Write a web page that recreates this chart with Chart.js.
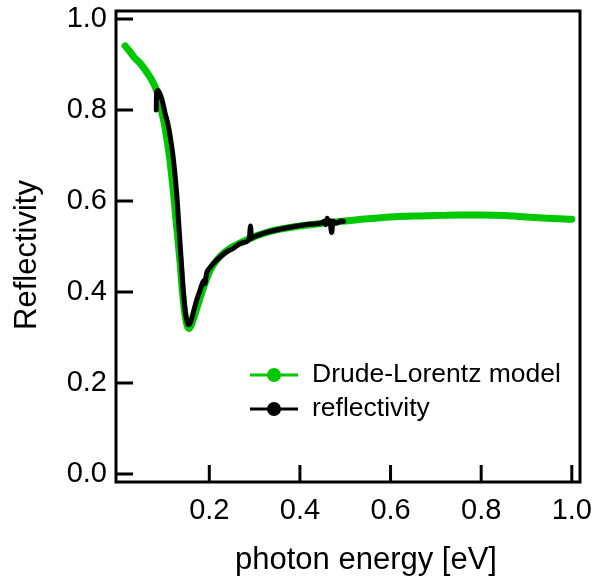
<!DOCTYPE html>
<html>
<head>
<meta charset="utf-8">
<script src="https://cdn.jsdelivr.net/npm/chart.js@4.4.1/dist/chart.umd.min.js"></script>
<style>
  body { margin: 0; background: #fff; }
  #wrap { width: 594px; height: 579px; }
</style>
</head>
<body>
<div id="wrap"><canvas id="grafico" width="594" height="579"></canvas></div>
<script>
// Drude-Lorentz model (green)
const modelEnergy = [0.014, 0.025, 0.035, 0.047, 0.060, 0.073, 0.080, 0.086, 0.093, 0.102, 0.113, 0.121,
    0.128, 0.135, 0.141, 0.146, 0.151, 0.155, 0.160, 0.169, 0.183, 0.202, 0.231, 0.275, 0.334, 0.40,
    0.45, 0.50, 0.55, 0.60, 0.65, 0.70, 0.75, 0.80, 0.85, 0.90, 0.95, 1.0];
const modelR = [0.941, 0.928, 0.915, 0.903, 0.886, 0.866, 0.852, 0.836, 0.805, 0.763, 0.690, 0.617,
    0.544, 0.470, 0.397, 0.353, 0.327, 0.320, 0.327, 0.353, 0.397, 0.448, 0.485, 0.511, 0.533, 0.545,
    0.551, 0.556, 0.561, 0.565, 0.567, 0.568, 0.569, 0.569, 0.568, 0.565, 0.562, 0.560];

// measured reflectivity (black)
const measEnergy = [0.083, 0.0835, 0.085, 0.087, 0.090, 0.095, 0.102, 0.110, 0.116, 0.121, 0.128, 0.133,
    0.138, 0.143, 0.148, 0.152, 0.155, 0.160, 0.166, 0.172, 0.180, 0.188, 0.190, 0.194, 0.200, 0.216,
    0.235, 0.253, 0.272, 0.288, 0.291, 0.293, 0.296, 0.319, 0.334, 0.36, 0.393, 0.42, 0.445, 0.455,
    0.457, 0.46, 0.463, 0.466, 0.47, 0.473, 0.478, 0.485, 0.49, 0.496];
const measR = [0.800, 0.832, 0.842, 0.843, 0.838, 0.825, 0.795, 0.763, 0.727, 0.690, 0.617, 0.544,
    0.470, 0.397, 0.350, 0.332, 0.328, 0.338, 0.360, 0.382, 0.405, 0.425, 0.418, 0.441, 0.452, 0.470,
    0.486, 0.496, 0.508, 0.516, 0.545, 0.518, 0.520, 0.529, 0.533, 0.539, 0.545, 0.549, 0.551, 0.556,
    0.548, 0.562, 0.552, 0.557, 0.531, 0.556, 0.551, 0.553, 0.556, 0.555];

const seriesLabels = ['Drude-Lorentz model', 'reflectivity'];
const xTicks = [0.2, 0.4, 0.6, 0.8, 1.0];
const yTicks = [0.0, 0.2, 0.4, 0.6, 0.8, 1.0];
const xTitle = 'photon energy [eV]';
const yTitle = 'Reflectivity';

const colores = { modelo: '#00c800', medida: '#000000' };
const fuente = 'Liberation Sans, Arial, Helvetica, sans-serif';

function puntos(xs, ys) {
    return xs.map((x, i) => ({ x: x, y: ys[i] }));
}

// frame + inward ticks
const marco = {
    id: 'marco',
    afterDatasetsDraw(chart) {
        const { ctx, chartArea: a, scales: { x, y } } = chart;
        ctx.save();
        ctx.strokeStyle = '#000';
        ctx.lineWidth = 3;
        ctx.strokeRect(a.left, a.top, a.right - a.left, a.bottom - a.top);
        ctx.beginPath();
        x.ticks.forEach(t => {
            const px = x.getPixelForValue(t.value);
            ctx.moveTo(px, a.bottom);
            ctx.lineTo(px, a.bottom - 17);
        });
        y.ticks.forEach(t => {
            const py = y.getPixelForValue(t.value);
            ctx.moveTo(a.left, py);
            ctx.lineTo(a.left + 17, py);
        });
        ctx.stroke();
        ctx.restore();
    }
};

// legend inside the plot + axis titles
const leyenda = {
    id: 'leyenda',
    afterDraw(chart) {
        const ctx = chart.ctx;
        const filas = [375, 409];
        ctx.save();
        chart.data.datasets.forEach((ds, i) => {
            const yy = filas[i];
            ctx.strokeStyle = ds.borderColor;
            ctx.lineWidth = 3;
            ctx.beginPath();
            ctx.moveTo(250, yy);
            ctx.lineTo(298, yy);
            ctx.stroke();
            ctx.fillStyle = ds.borderColor;
            ctx.beginPath();
            ctx.arc(274, yy, 7, 0, Math.PI * 2);
            ctx.fill();
            ctx.fillStyle = '#000';
            ctx.font = '26.5px ' + fuente;
            ctx.textAlign = 'left';
            ctx.textBaseline = 'middle';
            ctx.fillText(ds.label, 312, yy);
        });

        ctx.font = '31px ' + fuente;
        ctx.fillStyle = '#000';
        ctx.textAlign = 'center';
        ctx.textBaseline = 'middle';
        ctx.fillText(xTitle, 366, 560);
        ctx.translate(27, 255);
        ctx.rotate(-Math.PI / 2);
        ctx.fillText(yTitle, 0, 0);
        ctx.restore();
    }
};

const fuenteTicks = { family: fuente, size: 29, lineHeight: 1 };

new Chart(document.getElementById('grafico'), {
    type: 'scatter',
    data: {
        datasets: [
            {
                label: seriesLabels[0],
                data: puntos(modelEnergy, modelR),
                showLine: true,
                borderColor: colores.modelo,
                backgroundColor: colores.modelo,
                borderWidth: 7,
                borderCapStyle: 'round',
                borderJoinStyle: 'round',
                pointRadius: 0,
                cubicInterpolationMode: 'monotone',
                order: 2
            },
            {
                label: seriesLabels[1],
                data: puntos(measEnergy, measR),
                showLine: true,
                borderColor: colores.medida,
                backgroundColor: colores.medida,
                borderWidth: 5,
                borderCapStyle: 'round',
                borderJoinStyle: 'round',
                pointRadius: 0,
                cubicInterpolationMode: 'monotone',
                order: 1
            }
        ]
    },
    options: {
        responsive: false,
        animation: false,
        devicePixelRatio: 1,
        layout: { padding: { left: 0, right: 14, top: 11, bottom: 0 } },
        scales: {
            x: {
                type: 'linear',
                min: -0.0059,
                max: 1.0181,
                afterBuildTicks: s => { s.ticks = xTicks.map(v => ({ value: v })); },
                afterFit: s => { s.height = 97; s.paddingLeft = 0; s.paddingRight = 0; },
                grid: { display: false, drawTicks: false },
                border: { display: false },
                ticks: {
                    color: '#000',
                    font: fuenteTicks,
                    padding: 14,
                    maxRotation: 0,
                    autoSkip: false,
                    callback: v => v.toFixed(1)
                }
            },
            y: {
                type: 'linear',
                min: -0.0176,
                max: 1.0176,
                afterBuildTicks: s => { s.ticks = yTicks.map(v => ({ value: v })); },
                afterFit: s => { s.width = 116; s.paddingTop = 0; s.paddingBottom = 0; },
                grid: { display: false, drawTicks: false },
                border: { display: false },
                ticks: {
                    color: '#000',
                    font: fuenteTicks,
                    padding: 9,
                    autoSkip: false,
                    callback: v => v.toFixed(1)
                }
            }
        },
        plugins: {
            legend: { display: false },
            tooltip: { enabled: false }
        }
    },
    plugins: [marco, leyenda]
});
</script>
</body>
</html>
